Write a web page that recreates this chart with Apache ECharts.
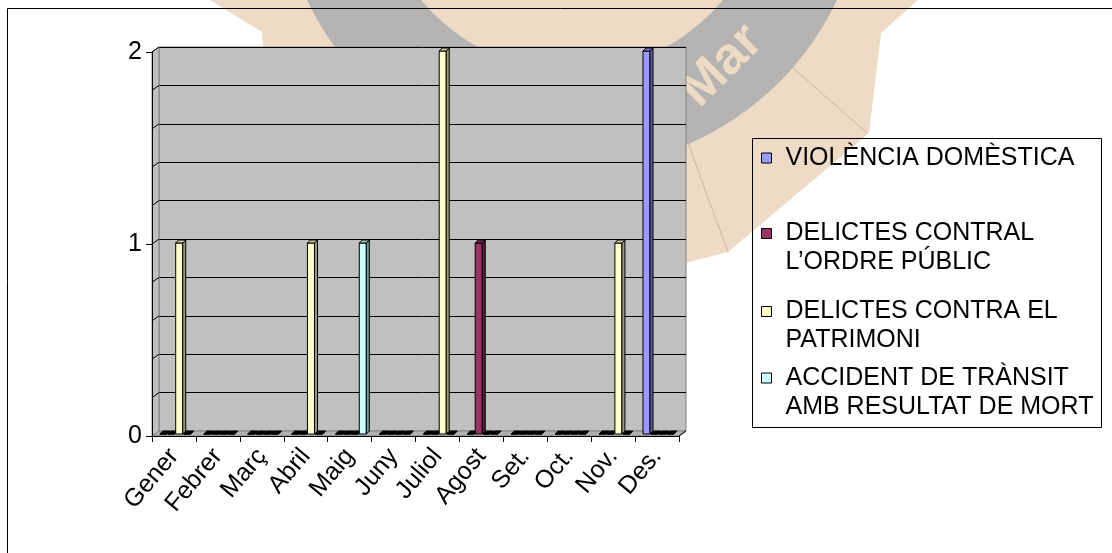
<!DOCTYPE html>
<html>
<head>
<meta charset="utf-8" />
<title>Delictes per mes</title>
<script src="https://cdn.jsdelivr.net/npm/echarts@6/dist/echarts.min.js"></script>
<style>
  html, body { margin: 0; padding: 0; background: #fff; }
  #chart { width: 1112px; height: 553px; }
</style>
</head>
<body>
<div id="chart"></div>
<script>
// categories (mesos)
const months = ["Gener", "Febrer", "Març", "Abril", "Maig", "Juny", "Juliol", "Agost", "Set.", "Oct.", "Nov.", "Des."];

// series values
const violencia = [0, 0, 0, 0, 0, 0, 0, 0, 0, 0, 0, 2];
const ordrePublic = [0, 0, 0, 0, 0, 0, 0, 1, 0, 0, 0, 0];
const patrimoni = [1, 0, 0, 1, 0, 0, 2, 0, 0, 0, 1, 0];
const transit = [0, 0, 0, 0, 1, 0, 0, 0, 0, 0, 0, 0];

// y axis ticks
const yMin = 0;
const yMax = 2;
const yLabelStep = 1;
const yGridStep = 0.2;

const seriesNames = [
  "VIOLÈNCIA DOMÈSTICA",
  "DELICTES CONTRAL L’ORDRE PÚBLIC",
  "DELICTES CONTRA EL PATRIMONI",
  "ACCIDENT DE TRÀNSIT AMB RESULTAT DE MORT",
];
// blank first line keeps the icon level with the first text line
const legendLabels = [
  "VIOLÈNCIA DOMÈSTICA",
  "\nDELICTES CONTRAL\nL’ORDRE PÚBLIC",
  "\nDELICTES CONTRA EL\nPATRIMONI",
  "\nACCIDENT DE TRÀNSIT\nAMB RESULTAT DE MORT",
];
const seriesValues = [violencia, ordrePublic, patrimoni, transit];

const FONT = "Liberation Sans, Arial, sans-serif";
const colors = ["#9999ff", "#993366", "#ffffcc", "#ccffff"];
const sideColors = ["#5c5c99", "#5c1f3d", "#99997a", "#7a9999"];
const topColors = ["#7a7acc", "#7a2952", "#ccccA3", "#a3cccc"];

// 3D depth of the walls (px)
const DEPTH_X = 7;
const DEPTH_Y = 5;

const chart = echarts.init(document.getElementById("chart"));

// 3d column
const makeBar = (k) => (params, api) => {
  const idx = api.value(0);
  const val = api.value(1);
  const base = api.coord([idx, 0]);
  const top = api.coord([idx, val]);
  const band = api.size([1, 0])[0];
  const w = band * 0.16;
  const d = 3;
  const x0 = base[0] - band / 2 + band * (0.18 + 0.18 * k);
  const yb = base[1] - 2;
  const yt = Math.min(top[1] - 1, yb);
  const line = { stroke: "#000", lineWidth: 1 };
  return {
    type: "group",
    children: [
      {
        type: "rect",
        shape: { x: x0, y: yt, width: w, height: yb - yt },
        style: Object.assign({ fill: colors[k] }, line),
      },
      {
        type: "polygon",
        shape: { points: [[x0 + w, yt], [x0 + w + d, yt - d], [x0 + w + d, yb - d], [x0 + w, yb]] },
        style: Object.assign({ fill: sideColors[k] }, line),
      },
      {
        type: "polygon",
        shape: { points: [[x0, yt], [x0 + d, yt - d], [x0 + w + d, yt - d], [x0 + w, yt]] },
        style: Object.assign({ fill: val === 0 ? "#000" : topColors[k] }, line),
      },
    ],
  };
};

// left wall + floor + little diagonal ticks on the left wall
const renderFrame = (params, api) => {
  const band = api.size([1, 0])[0];
  const p0 = api.coord([0, yMin]);
  const pTop = api.coord([0, yMax]);
  const pEnd = api.coord([months.length - 1, yMin]);
  const xl = p0[0] - band / 2;
  const xr = pEnd[0] + band / 2;
  const y0 = p0[1];
  const y2 = pTop[1];
  const children = [
    {
      type: "polygon",
      shape: { points: [[xl, y2], [xl + DEPTH_X, y2 - DEPTH_Y], [xl + DEPTH_X, y0 - DEPTH_Y], [xl, y0]] },
      style: { fill: "#c0c0c0", stroke: "#808080", lineWidth: 1 },
    },
    {
      type: "polygon",
      shape: { points: [[xl, y0], [xl + DEPTH_X, y0 - DEPTH_Y], [xr + DEPTH_X, y0 - DEPTH_Y], [xr, y0]] },
      style: { fill: "#b0b0b0", stroke: "#808080", lineWidth: 1 },
    },
    {
      type: "line",
      shape: { x1: xr, y1: y0, x2: xr + DEPTH_X, y2: y0 - DEPTH_Y },
      style: { stroke: "#000", lineWidth: 1 },
    },
  ];
  for (let v = yMin + yGridStep; v < yMax + 1e-6; v += yGridStep) {
    const p = api.coord([0, v]);
    children.push({
      type: "line",
      shape: { x1: xl, y1: p[1], x2: xl + DEPTH_X, y2: p[1] - DEPTH_Y },
      style: { stroke: "#000", lineWidth: 1 },
    });
  }
  return { type: "group", children };
};

const beige = "#eddbc6";
const ringGrey = "#b5b4b2";

const option = {
  backgroundColor: "#fff",
  animation: false,
  textStyle: { fontFamily: FONT },
  graphic: [
    // watermark behind the chart
    {
      type: "polygon",
      z: -5,
      shape: { points: [[210, 0], [918, 0], [881, 33], [869, 133], [728, 252], [685, 263], [400, 300], [264, 60], [262, 32]] },
      style: { fill: beige },
    },
    {
      type: "ring",
      z: -4,
      shape: { cx: 572, cy: -125, r: 293, r0: 196 },
      style: { fill: ringGrey },
    },
    {
      type: "polyline",
      z: -4,
      shape: { points: [[793, 68], [867, 133]] },
      style: { stroke: "#c9b9a8", lineWidth: 1 },
    },
    {
      type: "polyline",
      z: -4,
      shape: { points: [[688, 143], [728, 252]] },
      style: { stroke: "#c9b9a8", lineWidth: 1 },
    },
    {
      type: "text",
      z: -3,
      x: 722,
      y: 66,
      rotation: Math.PI / 4,
      style: {
        text: "Mar",
        fill: beige,
        font: "bold 52px " + FONT,
        align: "center",
        verticalAlign: "middle",
      },
    },
    // outer frame
    {
      type: "rect",
      z: 10,
      shape: { x: 7.5, y: 8.5, width: 1200, height: 600 },
      style: { fill: "none", stroke: "#000", lineWidth: 1 },
    },
    // legend box
    {
      type: "rect",
      z: 10,
      shape: { x: 752.5, y: 138.5, width: 349, height: 289 },
      style: { fill: "none", stroke: "#000", lineWidth: 1 },
    },
  ],
  legend: [0, 1, 2, 3].map((i) => ({
    data: [seriesNames[i]],
    orient: "vertical",
    left: 761,
    top: [143.5, 190, 268, 334.5][i],
    padding: 0,
    icon: "rect",
    itemWidth: 10,
    itemHeight: 10,
    itemStyle: { borderColor: "#000", borderWidth: 1 },
    selectedMode: false,
    formatter: () => legendLabels[i],
    textStyle: {
      fontFamily: FONT,
      fontSize: 25,
      color: "#000",
      lineHeight: 29,
      padding: [0, 0, 0, 9],
    },
  })),
  grid: [
    // front plane
    { left: 152, top: 52, width: 527, height: 384, containLabel: false },
    // back wall
    {
      left: 152 + DEPTH_X,
      top: 52 - DEPTH_Y,
      width: 527,
      height: 384,
      show: true,
      backgroundColor: "#c0c0c0",
      borderColor: "#808080",
      borderWidth: 1,
    },
  ],
  xAxis: [
    {
      type: "category",
      gridIndex: 0,
      data: months,
      boundaryGap: true,
      axisLine: { lineStyle: { color: "#000", width: 1 } },
      axisTick: { show: true, length: 6, lineStyle: { color: "#000" } },
      axisLabel: { rotate: 50, fontSize: 25, color: "#000", margin: 16, fontFamily: FONT, interval: 0 },
      z: 5,
    },
    { type: "category", gridIndex: 1, data: months, show: false },
  ],
  yAxis: [
    {
      type: "value",
      gridIndex: 0,
      min: yMin,
      max: yMax,
      interval: yLabelStep,
      axisLine: { show: true, lineStyle: { color: "#000", width: 1 } },
      axisTick: { show: true, length: 6, lineStyle: { color: "#000" } },
      axisLabel: { fontSize: 25, color: "#000", margin: 10, fontFamily: FONT },
      splitLine: { show: false },
      z: 5,
    },
    {
      type: "value",
      gridIndex: 1,
      min: yMin,
      max: yMax,
      interval: yGridStep,
      axisLine: { show: false },
      axisTick: { show: false },
      axisLabel: { show: false },
      splitLine: { show: true, lineStyle: { color: "#000", width: 1 } },
    },
  ],
  series: [
    {
      type: "custom",
      name: "frame",
      xAxisIndex: 0,
      yAxisIndex: 0,
      renderItem: renderFrame,
      data: [[0, 0]],
      silent: true,
      z: 1,
    },
  ].concat(
    seriesValues.map((vals, k) => ({
      type: "custom",
      name: seriesNames[k],
      xAxisIndex: 0,
      yAxisIndex: 0,
      renderItem: makeBar(k),
      data: vals.map((v, i) => [i, v]),
      encode: { x: 0, y: 1 },
      itemStyle: { color: colors[k], borderColor: "#000", borderWidth: 1 },
      z: 3,
    }))
  ),
};

chart.setOption(option);
window.addEventListener("resize", () => {
  chart.resize();
});
</script>
</body>
</html>
